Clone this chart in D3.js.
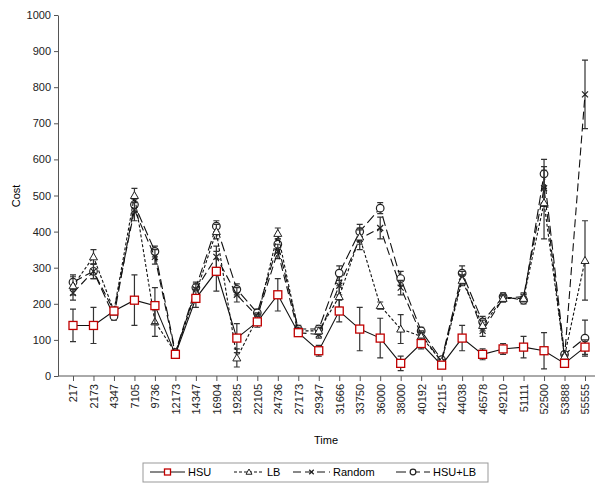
<!DOCTYPE html>
<html><head><meta charset="utf-8">
<script src="https://cdn.jsdelivr.net/npm/d3@7"></script>
<style>html,body{margin:0;background:#fff;overflow:hidden}svg{font-family:"Liberation Sans",Arial,sans-serif;display:block}</style>
</head><body>
<svg id="c" width="602" height="493"></svg>
<script>
const times = ['217','2173','4347','7105','9736','12173','14347','16904','19285','22105','24736','27173','29347','31666','33750','36000','38000','40192','42115','44038','46578','49210','51111','52500','53888','55555'];
const hsu = [140,140,180,210,195,60,215,290,105,150,225,120,70,180,130,105,35,90,30,105,60,75,80,70,35,80];
const hsuErr = [45,50,10,70,50,5,25,55,40,15,45,10,15,30,60,55,20,15,8,35,15,15,30,50,8,20];
const lb = [250,330,180,500,150,65,230,400,50,160,395,125,125,220,385,195,130,110,40,265,140,215,215,480,55,320];
const lbErr = [25,20,10,20,40,5,15,20,25,10,15,10,10,30,20,10,40,10,5,15,15,10,10,100,5,110];
const rnd = [230,290,180,460,330,60,240,330,225,165,345,120,115,250,380,410,245,115,40,275,125,215,220,520,50,780];
const rndErr = [20,20,10,30,20,5,15,30,20,10,20,10,10,25,30,30,20,10,5,15,15,10,10,50,5,95];
const both = [260,290,165,475,345,65,245,415,240,175,365,130,130,285,400,465,270,125,45,285,150,220,210,560,60,105];
const bothErr = [20,20,10,20,15,5,15,15,15,10,15,10,10,20,20,15,20,10,5,20,15,10,10,40,5,50];
const yTicks = [0,100,200,300,400,500,600,700,800,900,1000];

const series = [
  {name:'HSU', v:hsu, e:hsuErr, dash:null, m:'sq'},
  {name:'LB', v:lb, e:lbErr, dash:'3,2', m:'tri'},
  {name:'Random', v:rnd, e:rndErr, dash:'8,4', m:'x'},
  {name:'HSU+LB', v:both, e:bothErr, dash:'10,4', m:'ci'}
];

const svg = d3.select('#c');
const L = 58, R = 595, T = 15, B = 376;
const x = d3.scalePoint().domain(times).range([73, 585]);
const y = d3.scaleLinear().domain([0,1000]).range([B, T]);

svg.append('g').attr('transform', `translate(${L},0)`)
  .call(d3.axisLeft(y).tickValues(yTicks).tickFormat(d3.format('d')).tickSize(4).tickSizeOuter(0))
  .call(g => g.selectAll('text').attr('font-size', 11).attr('fill', '#222'));
svg.append('g').attr('transform', `translate(0,${B})`)
  .call(d3.axisBottom(x).tickSize(5).tickSizeOuter(0))
  .call(g => g.select('.domain').attr('d', `M${L},0H${R}`))
  .call(g => g.selectAll('text').attr('font-size', 11).attr('fill', '#222')
    .attr('transform', 'rotate(-90)').attr('text-anchor', 'end').attr('x', -8).attr('y', 0).attr('dy', '0.35em'));
svg.selectAll('.domain, .tick line').attr('stroke', '#555');

svg.append('text').attr('x', 326).attr('y', 444).attr('text-anchor', 'middle').attr('font-size', 11).text('Time');
svg.append('text').attr('transform', 'translate(20,196) rotate(-90)').attr('text-anchor', 'middle').attr('font-size', 11).text('Cost');

function marker(g, type, cx, cy, s = 1) {
  if (type === 'sq') g.append('rect').attr('x', cx-4*s).attr('y', cy-4*s).attr('width', 8*s).attr('height', 8*s).attr('fill', '#fff').attr('stroke', '#c00000').attr('stroke-width', 1.3);
  else if (type === 'tri') g.append('path').attr('d', `M${cx},${cy-4*s}L${cx+4*s},${cy+3*s}L${cx-4*s},${cy+3*s}Z`).attr('fill', '#fff').attr('stroke', '#222');
  else if (type === 'x') g.append('path').attr('d', `M${cx-3*s},${cy-3*s}L${cx+3*s},${cy+3*s}M${cx-3*s},${cy+3*s}L${cx+3*s},${cy-3*s}`).attr('stroke', '#222').attr('stroke-width', 1.2);
  else g.append('circle').attr('cx', cx).attr('cy', cy).attr('r', 3.8*s).attr('fill', '#fff').attr('stroke', '#222').attr('stroke-width', 1.2);
}

const line = d3.line().x((d, i) => x(times[i])).y(d => y(d));
[...series].reverse().forEach(s => {
  const g = svg.append('g');
  s.v.forEach((v, i) => {
    const cx = x(times[i]);
    g.append('path').attr('d', `M${cx},${y(v - s.e[i])}V${y(v + s.e[i])}M${cx-3},${y(v - s.e[i])}h6M${cx-3},${y(v + s.e[i])}h6`)
      .attr('stroke', '#333').attr('stroke-width', 1.2).attr('fill', 'none');
  });
  g.append('path').datum(s.v).attr('d', line).attr('fill', 'none').attr('stroke', '#111')
    .attr('stroke-width', 1.1).attr('stroke-dasharray', s.dash);
  s.v.forEach((v, i) => marker(g, s.m, x(times[i]), y(v)));
});

// legend
const lg = svg.append('g');
lg.append('rect').attr('x', 143).attr('y', 463).attr('width', 345).attr('height', 19).attr('fill', '#fff').attr('stroke', '#999');
const lx = [150, 234, 293, 396];
const lw = [35, 30, 37, 34];
series.forEach((s, i) => {
  lg.append('line').attr('x1', lx[i]).attr('x2', lx[i] + lw[i]).attr('y1', 472).attr('y2', 472)
    .attr('stroke', '#111').attr('stroke-dasharray', s.dash);
  marker(lg, s.m, lx[i] + lw[i] / 2, 472, 0.75);
  lg.append('text').attr('x', lx[i] + lw[i] + 3).attr('y', 476).attr('font-size', 11).text(s.name);
});
</script>
</body></html>
